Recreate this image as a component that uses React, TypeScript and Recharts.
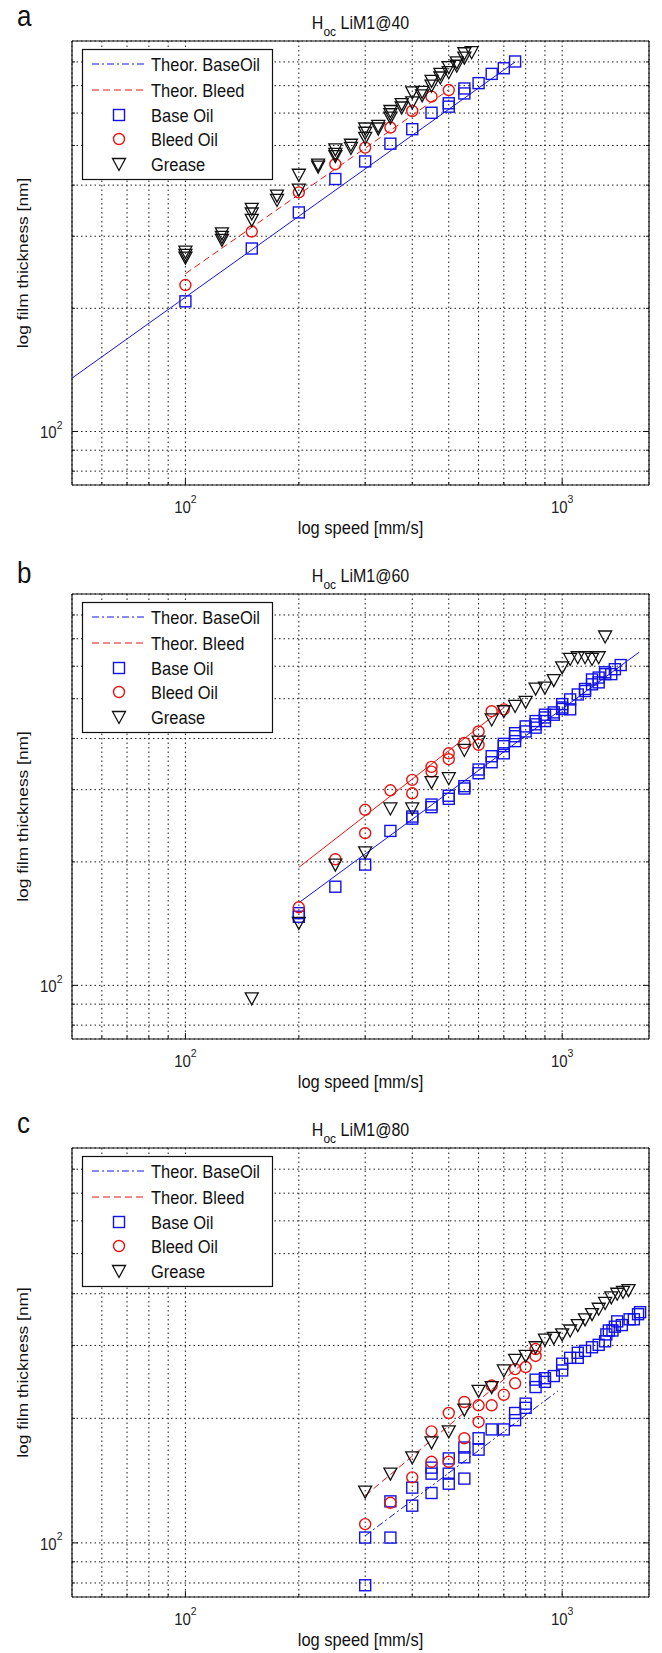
import React from 'react';
import { ScatterChart, Scatter, XAxis, YAxis, CartesianGrid } from 'recharts';

type Pt = [number, number];

// axes (log-log, shared by the three panels)
const SPEED_DOMAIN: [number, number] = [50, 1700];
const FILM_DOMAIN: [number, number] = [74, 900];
const SPEED_GRID = [60, 70, 80, 90, 100, 200, 300, 400, 500, 600, 700, 800, 900, 1000];
const FILM_GRID = [80, 90, 100, 200, 300, 400, 500, 600, 700, 800];
const SPEED_EXP: Record<number, string> = { 100: '2', 1000: '3' };
const FILM_EXP: Record<number, string> = { 100: '2' };
const LEGEND_NAMES = ['Theor. BaseOil', 'Theor. Bleed', 'Base Oil', 'Bleed Oil', 'Grease'];

// panel a  (40 °C)
const theorBaseA: Pt[] = [[50, 135], [750, 800]];
const theorBleedA: Pt[] = [[100, 243], [500, 684]];
const baseOilA: Pt[] = [
  [100, 208], [150, 280], [200, 343], [250, 414], [300, 457], [350, 505], [400, 548], [450, 601],
  [500, 622], [500, 634], [550, 670], [550, 689], [600, 710], [650, 748], [700, 772], [750, 802],
];
const bleedOilA: Pt[] = [
  [100, 228], [150, 308], [200, 384], [250, 450], [300, 494], [350, 553], [400, 607], [450, 658], [500, 683],
];
const greaseA: Pt[] = [
  [100, 275], [100, 270], [100, 266], [125, 305], [125, 299], [125, 294],
  [150, 350], [150, 341], [150, 329], [175, 377], [175, 368], [200, 424], [200, 390],
  [225, 449], [225, 444], [250, 489], [250, 477], [250, 471], [275, 502], [275, 493],
  [300, 550], [300, 537], [300, 522], [325, 558], [325, 550], [350, 607], [350, 596], [350, 585],
  [375, 631], [375, 619], [400, 674], [400, 637], [425, 676], [425, 663], [450, 719], [450, 700],
  [475, 748], [475, 733], [500, 777], [500, 755], [525, 798], [525, 783], [550, 840], [550, 820],
  [575, 845],
];

// panel b  (60 °C)
const theorBaseB: Pt[] = [[200, 159], [1600, 649]];
const theorBleedB: Pt[] = [[200, 194], [700, 475]];
const baseOilB: Pt[] = [
  [200, 150], [200, 147], [250, 174], [300, 197], [350, 238], [400, 255], [400, 258], [450, 272],
  [450, 276], [500, 285], [500, 290], [550, 302], [550, 306], [600, 329], [600, 336], [650, 350],
  [650, 362], [700, 368], [700, 383], [700, 388], [750, 394], [750, 405], [750, 412], [800, 416],
  [800, 428], [850, 425], [850, 433], [850, 441], [900, 441], [900, 450], [900, 457], [950, 457],
  [950, 463], [1000, 472], [1000, 476], [1000, 485], [1050, 471], [1050, 498], [1100, 512],
  [1150, 522], [1150, 528], [1200, 542], [1200, 557], [1250, 548], [1250, 563], [1300, 574],
  [1300, 580], [1350, 574], [1380, 590], [1430, 604],
];
const bleedOilB: Pt[] = [
  [200, 155], [250, 203], [300, 235], [300, 268], [350, 299], [400, 294], [400, 317], [450, 332],
  [450, 341], [500, 356], [500, 368], [550, 390], [600, 386], [600, 416], [650, 466], [700, 471],
];
const greaseB: Pt[] = [
  [150, 93], [200, 142], [250, 197], [300, 211], [350, 270], [400, 270], [450, 313], [500, 320],
  [550, 375], [600, 393], [650, 445], [700, 466], [750, 480], [800, 491], [850, 529], [900, 532],
  [950, 555], [1000, 596], [1050, 625], [1100, 631], [1150, 631], [1200, 625], [1250, 631], [1300, 709],
];

// panel c  (80 °C)
const theorBaseC: Pt[] = [[300, 104], [975, 233]];
const theorBleedC: Pt[] = [[300, 130], [850, 288]];
const baseOilC: Pt[] = [
  [300, 79], [300, 103], [350, 103], [350, 126], [400, 123], [400, 136], [450, 132], [450, 147],
  [450, 152], [500, 139], [500, 147], [500, 160], [550, 143], [550, 161], [550, 170], [600, 168],
  [600, 179], [650, 188], [700, 188], [750, 198], [750, 206], [800, 212], [800, 217], [850, 238],
  [850, 248], [900, 245], [900, 250], [950, 253], [1000, 261], [1000, 271], [1050, 280], [1100, 280],
  [1100, 288], [1150, 291], [1200, 297], [1250, 301], [1300, 307], [1310, 319], [1330, 326],
  [1360, 326], [1380, 333], [1400, 343], [1440, 336], [1510, 347], [1550, 347], [1590, 357], [1610, 361],
];
const bleedOilC: Pt[] = [
  [300, 111], [350, 125], [400, 144], [450, 157], [450, 186], [500, 157], [500, 206], [550, 179],
  [550, 219], [600, 196], [600, 215], [650, 215], [650, 240], [700, 228], [750, 243], [750, 263],
  [800, 266], [850, 283], [850, 294],
];
const greaseC: Pt[] = [
  [300, 133], [350, 147], [400, 161], [450, 175], [500, 186], [550, 210], [600, 233], [650, 238],
  [700, 261], [750, 277], [800, 283], [850, 297], [900, 310], [950, 313], [1000, 319], [1050, 326],
  [1100, 336], [1150, 347], [1200, 357], [1250, 368], [1300, 380], [1350, 392], [1400, 400],
  [1450, 404], [1500, 408],
];

const W = 662;
const PLOT_LEFT = 72;
const PLOT_RIGHT = 649;
const BLUE = '#1212e8';
const RED = '#e81212';
const INK = '#111';
const FONT = '"Liberation Sans", Arial, Helvetica, sans-serif';
const STRETCH = 1.12;

const PANELS = [
  {
    letter: 'a', temp: 40, plotTop: 41, plotBottom: 485, letterBase: 26,
    theorBase: theorBaseA, theorBleed: theorBleedA, base: baseOilA, bleed: bleedOilA, grease: greaseA,
    baseDash: undefined as string | undefined, bleedDash: '7 4' as string | undefined,
  },
  {
    letter: 'b', temp: 60, plotTop: 594, plotBottom: 1039, letterBase: 583,
    theorBase: theorBaseB, theorBleed: theorBleedB, base: baseOilB, bleed: bleedOilB, grease: greaseB,
    baseDash: undefined, bleedDash: undefined,
  },
  {
    letter: 'c', temp: 80, plotTop: 1148, plotBottom: 1597, letterBase: 1133,
    theorBase: theorBaseC, theorBleed: theorBleedC, base: baseOilC, bleed: bleedOilC, grease: greaseC,
    baseDash: '7 3 2 3', bleedDash: '7 4',
  },
];

const toRows = (pts: Pt[]) => pts.map(([speed, film]) => ({ speed, film }));

const Square = (p: any) => (
  <rect x={p.cx - 5.5} y={p.cy - 5.5} width={11} height={11} fill="none" stroke={BLUE} strokeWidth={1.4} />
);
const Ring = (p: any) => <circle cx={p.cx} cy={p.cy} r={5.5} fill="none" stroke={RED} strokeWidth={1.4} />;
const Tri = (p: any) => (
  <path
    d={`M${p.cx - 6.5},${p.cy - 5.5}L${p.cx + 6.5},${p.cy - 5.5}L${p.cx},${p.cy + 6.5}Z`}
    fill="none"
    stroke={INK}
    strokeWidth={1.3}
  />
);
const NoDot = () => <g />;

function SpeedTick({ x, y, payload, side }: any) {
  const v = payload.value;
  const len = v === 100 || v === 1000 ? 6 : 3;
  const dir = side === 'bottom' ? -1 : 1;
  return (
    <g>
      <line x1={x} x2={x} y1={y} y2={y + dir * len} stroke={INK} />
      {side === 'bottom' && SPEED_EXP[v] && (
        <text
          transform={`translate(${x},${y + 28}) scale(1,${STRETCH})`}
          textAnchor="middle"
          fontSize={15}
          fontFamily={FONT}
          fill="#222"
        >
          10<tspan dy={-8.5} fontSize={10.5}>{SPEED_EXP[v]}</tspan>
        </text>
      )}
    </g>
  );
}

function FilmTick({ x, y, payload, side }: any) {
  const v = payload.value;
  const len = v === 100 ? 6 : 3;
  const dir = side === 'left' ? 1 : -1;
  return (
    <g>
      <line x1={x} x2={x + dir * len} y1={y} y2={y} stroke={INK} />
      {side === 'left' && FILM_EXP[v] && (
        <text
          transform={`translate(${x - 9.5},${y + 7}) scale(1,${STRETCH})`}
          textAnchor="end"
          fontSize={15}
          fontFamily={FONT}
          fill="#222"
        >
          10<tspan dy={-8.5} fontSize={10.5}>{FILM_EXP[v]}</tspan>
        </text>
      )}
    </g>
  );
}

function Panel({ p }: { p: (typeof PANELS)[number] }) {
  const top = p.plotTop - 41;
  const height = p.plotBottom + 60 - top;
  // axes get 1px of room (a 0px axis is not drawn), so margins are 1px smaller
  const axisCommon = {
    type: 'number' as const,
    scale: 'log' as const,
    allowDataOverflow: true,
    interval: 0 as const,
    tickSize: 0,
    tickMargin: 0,
    tickLine: false,
    axisLine: { stroke: INK, strokeWidth: 1.2 },
  };
  return (
    <div style={{ position: 'absolute', left: 0, top, width: W, height }}>
      <ScatterChart
        width={W}
        height={height}
        margin={{
          top: 40,
          right: W - PLOT_RIGHT - 1,
          bottom: height - (p.plotBottom - top) - 1,
          left: PLOT_LEFT - 1,
        }}
      >
        <CartesianGrid stroke="#1a1a1a" strokeDasharray="1.5 3" strokeWidth={1} />
        <XAxis
          {...axisCommon}
          dataKey="speed"
          domain={SPEED_DOMAIN}
          ticks={SPEED_GRID}
          height={1}
          tick={(t: any) => <SpeedTick {...t} side="bottom" />}
        />
        <XAxis
          {...axisCommon}
          xAxisId="top"
          orientation="top"
          domain={SPEED_DOMAIN}
          ticks={SPEED_GRID}
          height={1}
          tick={(t: any) => <SpeedTick {...t} side="top" />}
        />
        <YAxis
          {...axisCommon}
          dataKey="film"
          domain={FILM_DOMAIN}
          ticks={FILM_GRID}
          width={1}
          tick={(t: any) => <FilmTick {...t} side="left" />}
        />
        <YAxis
          {...axisCommon}
          yAxisId="right"
          orientation="right"
          domain={FILM_DOMAIN}
          ticks={FILM_GRID}
          width={1}
          tick={(t: any) => <FilmTick {...t} side="right" />}
        />
        <Scatter
          data={toRows(p.theorBase)}
          shape={NoDot}
          line={{ stroke: BLUE, strokeWidth: 1, strokeDasharray: p.baseDash }}
          lineType="joint"
          isAnimationActive={false}
        />
        <Scatter
          data={toRows(p.theorBleed)}
          shape={NoDot}
          line={{ stroke: RED, strokeWidth: 1, strokeDasharray: p.bleedDash }}
          lineType="joint"
          isAnimationActive={false}
        />
        <Scatter data={toRows(p.base)} shape={Square} isAnimationActive={false} />
        <Scatter data={toRows(p.bleed)} shape={Ring} isAnimationActive={false} />
        <Scatter data={toRows(p.grease)} shape={Tri} isAnimationActive={false} />
      </ScatterChart>
    </div>
  );
}

function LegendBox({ top }: { top: number }) {
  const rows = [15, 41, 66, 90, 115];
  return (
    <g transform={`translate(82,${top})`}>
      <rect x={0.5} y={0.5} width={190} height={130} fill="#fff" stroke={INK} strokeWidth={1.2} />
      <line x1={10} x2={65} y1={rows[0]} y2={rows[0]} stroke={BLUE} strokeDasharray="7 3 2 3" />
      <line x1={10} x2={65} y1={rows[1]} y2={rows[1]} stroke={RED} strokeDasharray="7 4" />
      <Square cx={37} cy={rows[2]} />
      <Ring cx={37} cy={rows[3]} />
      <Tri cx={37} cy={rows[4]} />
      {LEGEND_NAMES.map((name, i) => (
        <text
          key={name}
          transform={`translate(69,${rows[i] + 6.5}) scale(1,${STRETCH})`}
          fontSize={16.5}
          fontFamily={FONT}
          fill="#111"
        >
          {name}
        </text>
      ))}
    </g>
  );
}

function Annotations() {
  const cx = (PLOT_LEFT + PLOT_RIGHT) / 2;
  return (
    <svg
      width={W}
      height={1653}
      style={{ position: 'absolute', left: 0, top: 0, pointerEvents: 'none' }}
    >
      {PANELS.map((p) => (
        <g key={p.letter} fontFamily={FONT} fill="#111">
          <text transform={`translate(17,${p.letterBase}) scale(1,1.1)`} fontSize={26}>
            {p.letter}
          </text>
          <text
            transform={`translate(${cx},${p.plotTop - 12}) scale(1,${STRETCH})`}
            textAnchor="middle"
            fontSize={16}
          >
            H<tspan dy={6} fontSize={12}>oc</tspan>
            <tspan dy={-6}>{' LiM1@' + p.temp}</tspan>
          </text>
          <text
            transform={`translate(27.5,${(p.plotTop + p.plotBottom) / 2}) rotate(-90) scale(${STRETCH},1)`}
            textAnchor="middle"
            fontSize={15.5}
          >
            log film thickness [nm]
          </text>
          <text
            transform={`translate(${cx},${p.plotBottom + 48.5}) scale(1,${STRETCH})`}
            textAnchor="middle"
            fontSize={16.5}
          >
            log speed [mm/s]
          </text>
          <LegendBox top={p.plotTop + 8} />
        </g>
      ))}
    </svg>
  );
}

export default function App() {
  return (
    <div
      style={{
        position: 'absolute',
        left: 0,
        top: 0,
        width: W,
        height: 1653,
        background: '#fff',
        overflow: 'hidden',
      }}
    >
      {PANELS.map((p) => (
        <Panel key={p.letter} p={p} />
      ))}
      <Annotations />
    </div>
  );
}
